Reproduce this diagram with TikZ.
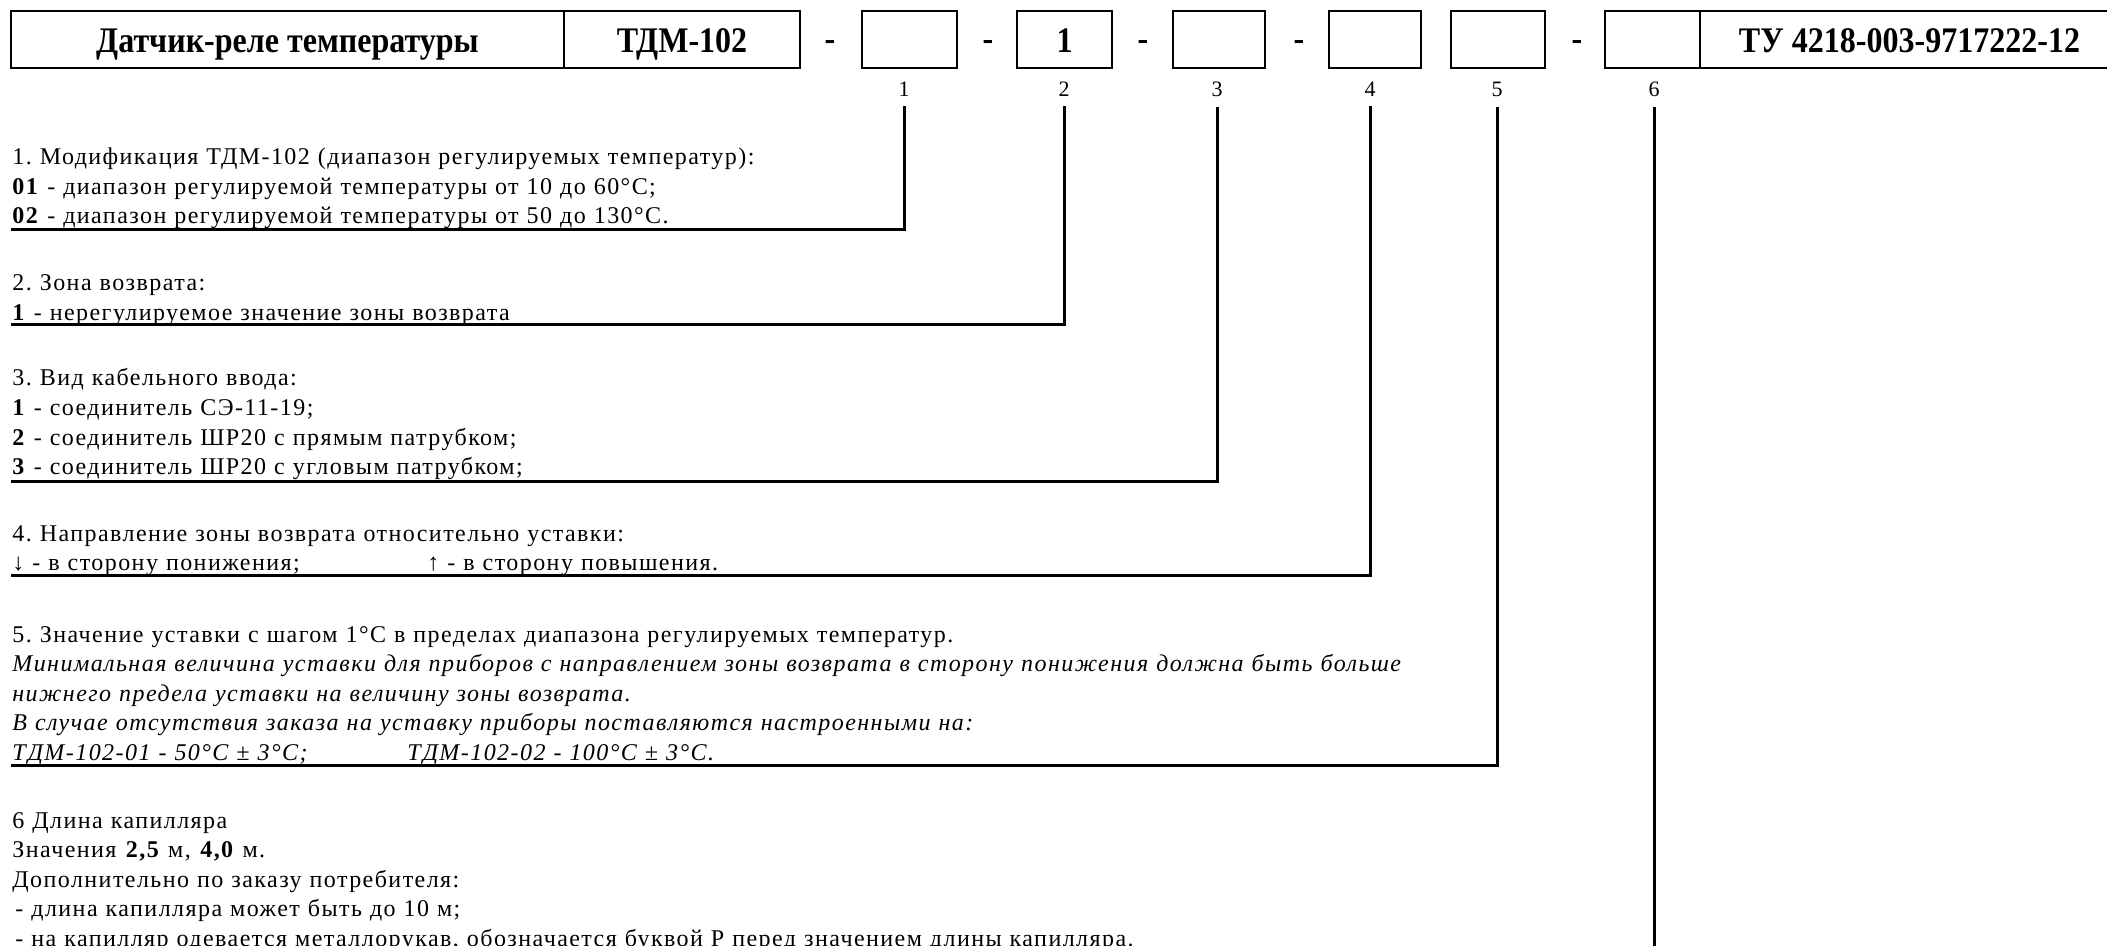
\documentclass[tikz,border=0pt]{standalone}
\usepackage{fontspec}
\setmainfont{Liberation Serif}[LetterSpace=6]
\newfontfamily\titlefont{Liberation Serif}[FakeStretch=0.89]
\newfontfamily\numfont{Liberation Serif}
\frenchspacing
\begin{document}
\begin{tikzpicture}[x=0.5pt,y=-0.5pt,
  box/.style={draw, line width=1.3pt, inner sep=0pt, minimum height=28.5pt,
    text height=13pt, text depth=0pt, font=\titlefont\fontsize{18}{20}\selectfont\bfseries},
  dashlbl/.style={inner sep=0pt, anchor=base, font=\titlefont\fontsize{18}{20}\selectfont\bfseries},
  numlbl/.style={inner sep=0pt, anchor=base, font=\numfont\fontsize{11}{12}\selectfont},
  desc/.style={inner sep=0pt, anchor=base west, align=left, text width=900pt,
    font=\fontsize{12}{14.75}\selectfont},
  leader/.style={line width=1.5pt, shorten <=4.5pt},
]
\useasboundingbox (0,0) rectangle (2107,946);
\clip (0,0) rectangle (2107,946);
\fill[white] (0,0) rectangle (2107,946);

% top row
\node[box, minimum width=276.5pt] (title) at (287.5,39.5) {Датчик-реле температуры};
\node[box, minimum width=118pt] (model) at (682,39.5) {ТДМ-102};
\node[dashlbl] (d1) at (830,51) {-};
\node[box, minimum width=47.5pt] (b1) at (909.5,39.5) {};
\node[dashlbl] (d2) at (988,51) {-};
\node[box, minimum width=47.5pt] (b2) at (1064.5,39.5) {1};
\node[dashlbl] (d3) at (1143,51) {-};
\node[box, minimum width=46pt] (b3) at (1219,39.5) {};
\node[dashlbl] (d4) at (1299,51) {-};
\node[box, minimum width=46pt] (b4) at (1375,39.5) {};
\node[box, minimum width=47pt] (b5) at (1498,39.5) {};
\node[dashlbl] (d5) at (1577,51) {-};
\node[box, minimum width=47.5pt] (b6) at (1652.5,39.5) {};
\node[box, minimum width=209.5pt] (tu) at (1909.5,39.5) {ТУ 4218-003-9717222-12};

% position numbers
\node[numlbl] (n1) at (904,97) {1};
\node[numlbl] (n2) at (1064,97) {2};
\node[numlbl] (n3) at (1217,97) {3};
\node[numlbl] (n4) at (1370,97) {4};
\node[numlbl] (n5) at (1497,97) {5};
\node[numlbl] (n6) at (1654,97) {6};

% descriptions
\node[desc] (t1) at (12,165) {1. Модификация ТДМ-102 (диапазон регулируемых температур):\\
\textbf{01} - диапазон регулируемой температуры от 10 до 60°C;\\
\textbf{02} - диапазон регулируемой температуры от 50 до 130°C.};

\node[desc] (t2) at (12,291) {2. Зона возврата:\\
\textbf{1} - нерегулируемое значение зоны возврата};

\node[desc] (t3) at (12,386) {3. Вид кабельного ввода:\\
\textbf{1} - соединитель СЭ-11-19;\\
\textbf{2} - соединитель ШР20 с прямым патрубком;\\
\textbf{3} - соединитель ШР20 с угловым патрубком;};

\node[desc] (t4) at (12,541) {4. Направление зоны возврата относительно уставки:\\
\makebox[207.5pt][l]{↓ - в сторону понижения;}↑ - в сторону повышения.};

\node[desc] (t5) at (12,642) {5. Значение уставки с шагом 1°C в пределах диапазона регулируемых температур.\\
\makebox[737pt][s]{\itshape Минимальная величина уставки для приборов с направлением зоны возврата в сторону понижения должна быть больше}\\
\textit{нижнего предела уставки на величину зоны возврата.}\\
\textit{В случае отсутствия заказа на уставку приборы поставляются настроенными на:}\\
\makebox[197.5pt][l]{\itshape ТДМ-102-01 - 50°C ± 3°C;}\textit{ТДМ-102-02 - 100°C ± 3°C.}};

\node[desc] (t6) at (12,828) {6 Длина капилляра\\
Значения \textbf{2,5} м, \textbf{4,0} м.\\
Дополнительно по заказу потребителя:\\
\hspace{1.5pt}- длина капилляра может быть до 10 м;\\
\hspace{1.5pt}- на капилляр одевается металлорукав, обозначается буквой Р перед значением длины капилляра.};

% leader line ends
\coordinate (e1) at (11,230);
\coordinate (e2) at (11,325);
\coordinate (e3) at (11,481);
\coordinate (e4) at (11,575);
\coordinate (e5) at (11,765);
\coordinate (e6) at (1654,960);

\draw[leader] (n1.south) |- (e1);
\draw[leader] (n2.south) |- (e2);
\draw[leader] (n3.south) |- (e3);
\draw[leader] (n4.south) |- (e4);
\draw[leader] (n5.south) |- (e5);
\draw[leader] (n6.south) -- (e6);
\end{tikzpicture}
\end{document}
